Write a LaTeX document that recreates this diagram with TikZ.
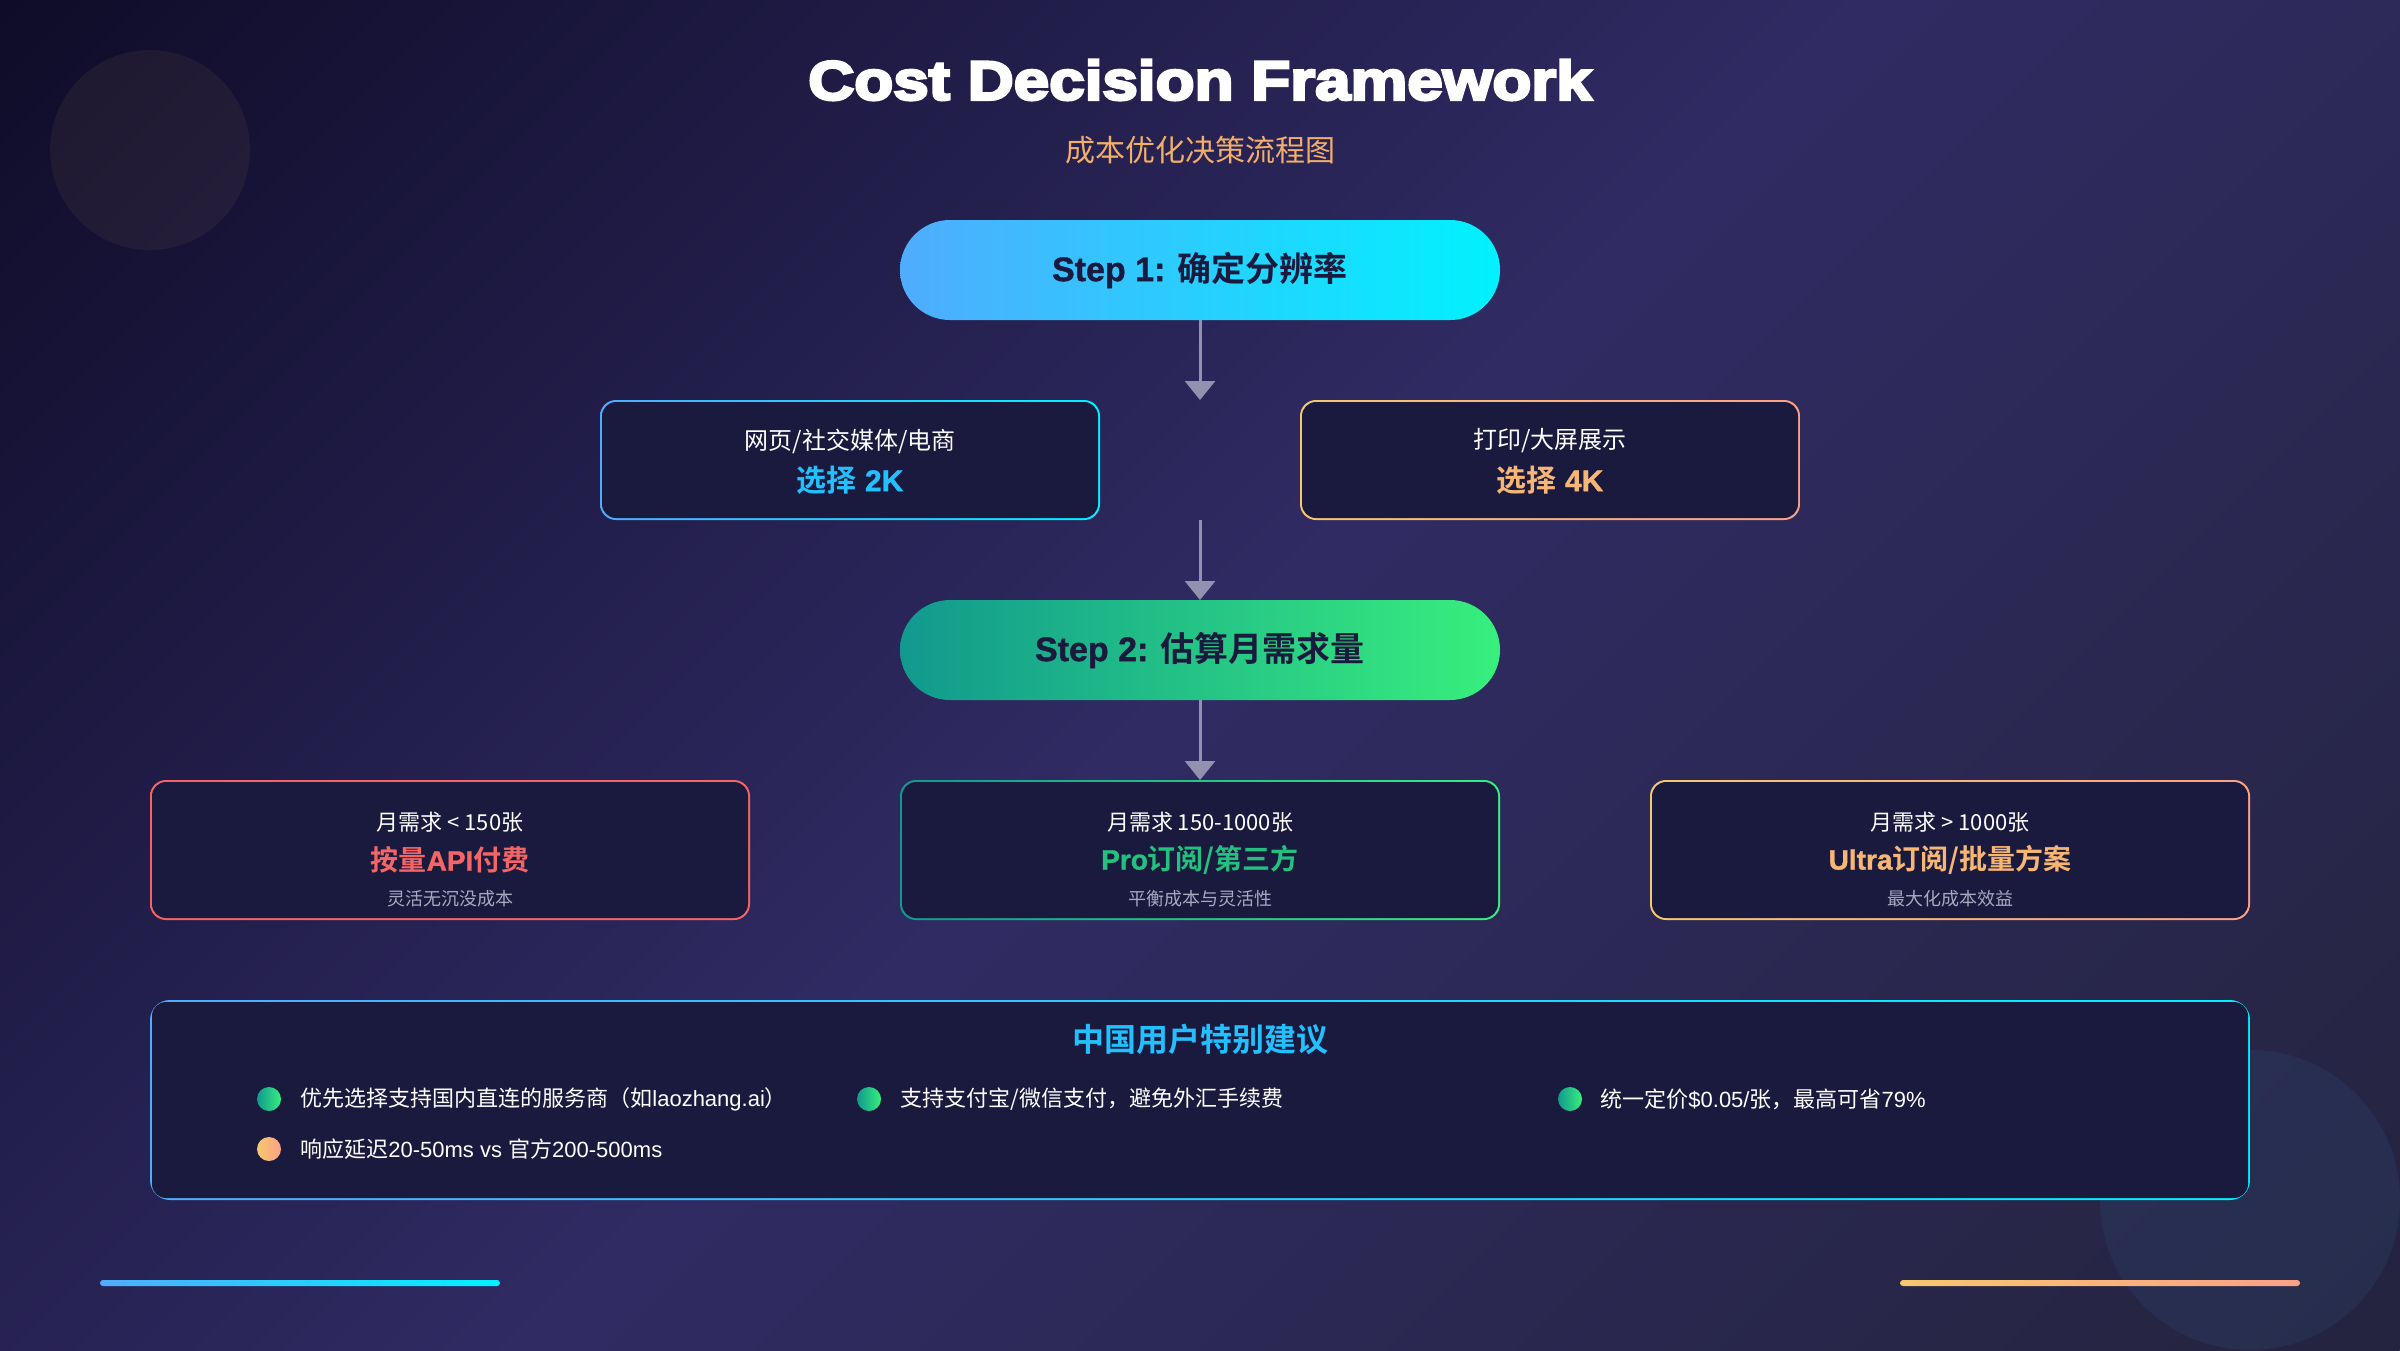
\documentclass[tikz,border=0pt]{standalone}
\usepackage{fontspec}
\setmainfont{Liberation Sans}[BoldFeatures={FakeBold=1.2}]
\newfontfamily\cjk{Noto Sans CJK SC}[BoldFont={Noto Sans CJK SC Bold}]
\newfontfamily\heavy{Liberation Sans Bold}[FakeStretch=1.16,FakeBold=5]
\usetikzlibrary{positioning,arrows.meta}
\definecolor{bgA}{HTML}{0F0C29}
\definecolor{bgB}{HTML}{302B63}
\definecolor{bgC}{HTML}{24243E}
\definecolor{cardbg}{HTML}{1A1A3F}
\definecolor{ink}{HTML}{1A1A3E}
\definecolor{blueA}{HTML}{4FACFE}
\definecolor{blueB}{HTML}{00F2FE}
\definecolor{greenA}{HTML}{11998E}
\definecolor{greenB}{HTML}{38EF7D}
\definecolor{peachA}{HTML}{F6C86E}
\definecolor{peachB}{HTML}{FDA085}
\definecolor{redA}{HTML}{F56565}
\definecolor{flowgray}{RGB}{148,144,176}
\definecolor{subgray}{RGB}{168,168,190}
\definecolor{subtitle}{HTML}{F2AE6A}
\definecolor{blueT}{HTML}{22C0FE}
\definecolor{greenT}{HTML}{24C07F}
\definecolor{peachT}{HTML}{F8B674}
\newcommand\sz[1]{\fontsize{#1}{#1}\selectfont}

\begin{document}
\begin{tikzpicture}[x=1pt,y=-1pt,
  pill/.style 2 args={left color=#1, right color=#2, rounded corners=50pt, minimum width=600pt, minimum height=100pt, inner sep=0pt, outer sep=0pt, text=ink, font=\sz{34}\bfseries},
  card/.style 2 args={left color=#1, right color=#2, rounded corners=16pt, inner sep=0pt, outer sep=0pt,
    path picture={\fill[cardbg, rounded corners=14pt] ([shift={(2pt,-2pt)}]path picture bounding box.north west) rectangle ([shift={(-2pt,2pt)}]path picture bounding box.south east);}},
  flow/.style={draw=flowgray, line width=3pt, -{Triangle[width=30pt,length=19pt]}},
  dot/.style 2 args={circle, minimum size=24pt, inner sep=0pt, left color=#1, right color=#2},
  tip/.style={anchor=west, inner sep=0pt, text=white, font=\sz{22}},
  line/.style={inner sep=0pt, text=white, font=\cjk\sz{22}},
  pick/.style={inner sep=0pt, font=\sz{28}\bfseries},
  note/.style={inner sep=0pt, text=subgray, font=\cjk\sz{18}}]
\useasboundingbox (0,0) rectangle (2400,1350);
\begin{scope}
\clip (0,0) rectangle (2400,1350);
\shade[transform canvas={shift={(1200,675)}, rotate=-45}, left color=bgA, right color=bgC, middle color=bgB] (-1326,-1450) rectangle (1326,1450);
\end{scope}
\fill[peachA, opacity=.06] (150,150) circle [radius=100pt];
\fill[blueA, opacity=.07] (2250,1200) circle [radius=150pt];

\node[text=white, font=\heavy\sz{55}] (title) at (1200,80) {Cost Decision Framework};
\node[text=subtitle, font=\cjk\sz{30}] (sub) at (1200,150) {成本优化决策流程图};

\node[pill={blueA}{blueB}] (s1) at (1200,270) {Step 1: {\cjk\bfseries 确定分辨率}};

\node[card={blueA}{blueB}, minimum width=500pt, minimum height=120pt] (web) at (850,460) {};
\node[line, font=\cjk\sz{24}] (web1) at (850,441) {网页/社交媒体/电商};
\node[pick, text=blueT, font=\sz{30}\bfseries] (web2) at (850,480) {{\cjk 选择} 2K};
\node[card={peachA}{peachB}, minimum width=500pt, minimum height=120pt] (print) at (1550,460) {};
\node[line, font=\cjk\sz{24}] (print1) at (1550,441) {打印/大屏展示};
\node[pick, text=peachT, font=\sz{30}\bfseries] (print2) at (1550,480) {{\cjk 选择} 4K};

\node[pill={greenA}{greenB}] (s2) at (1200,650) {Step 2: {\cjk\bfseries 估算月需求量}};

\node[card={redA}{redA}, minimum width=600pt, minimum height=140pt] (low) at (450,850) {};
\node[line] (low1) at (450,822) {{\cjk 月需求} < 150{\cjk 张}};
\node[pick, text=redA] (low2) at (450,860) {{\cjk 按量}API{\cjk 付费}};
\node[note] (low3) at (450,899) {灵活无沉没成本};
\node[card={greenA}{greenB}, minimum width=600pt, minimum height=140pt] (mid) at (1200,850) {};
\node[line] (mid1) at (1200,822) {{\cjk 月需求} 150-1000{\cjk 张}};
\node[pick, text=greenT] (mid2) at (1200,860) {Pro{\cjk 订阅/第三方}};
\node[note] (mid3) at (1200,899) {平衡成本与灵活性};
\node[card={peachA}{peachB}, minimum width=600pt, minimum height=140pt] (high) at (1950,850) {};
\node[line] (high1) at (1950,822) {{\cjk 月需求} > 1000{\cjk 张}};
\node[pick, text=peachT] (high2) at (1950,860) {Ultra{\cjk 订阅/批量方案}};
\node[note] (high3) at (1950,899) {最大化成本效益};

\coordinate (split) at (1200,400);
\coordinate (join) at (1200,520);
\draw[flow] (s1.south) -- (split);
\draw[flow] (join) -- (s2.north);
\draw[flow] (s2.south) -- (mid.north);

\node[card={blueA}{blueB}, minimum width=2100pt, minimum height=200pt, rounded corners=20pt] (advice) at (1200,1100) {};
\node[text=blueT, font=\cjk\bfseries\sz{32}] (advtitle) at (1200,1039) {中国用户特别建议};
\node[dot={greenA}{greenB}] (d1) at (269,1099) {};
\node[tip, right=19pt of d1] (t1) {{\cjk 优先选择支持国内直连的服务商（如}laozhang.ai{\cjk ）}};
\node[dot={greenA}{greenB}] (d2) at (869,1099) {};
\node[tip, right=19pt of d2] (t2) {{\cjk 支持支付宝/微信支付，避免外汇手续费}};
\node[dot={greenA}{greenB}] (d3) at (1570,1099) {};
\node[tip, right=18pt of d3] (t3) {{\cjk 统一定价}\$0.05/{\cjk 张，最高可省}79\%};
\node[dot={peachA}{peachB}] (d4) at (269,1149) {};
\node[tip, right=19pt of d4] (t4) {{\cjk 响应延迟}20-50ms vs {\cjk 官方}200-500ms};

\shade[left color=blueA, right color=blueB, rounded corners=3pt] (100,1280) rectangle (500,1286);
\shade[left color=peachA, right color=peachB, rounded corners=3pt] (1900,1280) rectangle (2300,1286);
\end{tikzpicture}
\end{document}
